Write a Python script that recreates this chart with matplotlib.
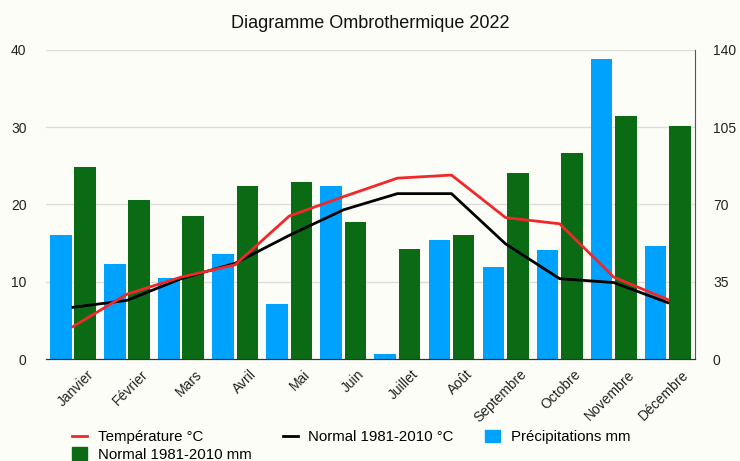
import matplotlib

matplotlib.use("Agg")
import matplotlib.pyplot as plt
import matplotlib.transforms as mtransforms
import numpy as np
from matplotlib.lines import Line2D
from matplotlib.patches import Patch

plt.rcParams["font.family"] = ["Liberation Sans", "DejaVu Sans"]

months = ["Janvier", "Février", "Mars", "Avril", "Mai", "Juin",
          "Juillet", "Août", "Septembre", "Octobre", "Novembre", "Décembre"]
temp_2022 = [4.2, 8.4, 10.6, 12.2, 18.5, 21.0, 23.4, 23.8, 18.3, 17.5, 10.6, 7.7]
temp_normal = [6.7, 7.6, 10.4, 12.4, 16.0, 19.3, 21.4, 21.4, 14.9, 10.4, 9.9, 7.3]
precip_2022 = [56, 43, 36.6, 47.6, 25, 78.4, 2.4, 53.8, 41.7, 49.5, 136, 51.2]
precip_normal = [87, 72, 65, 78.4, 80, 62, 50, 56, 84.4, 93.2, 110, 105.4]

bg = "#fdfdf8"
blue = "#00a2ff"
green = "#0a6b14"
red = "#f02828"

fig = plt.figure(figsize=(7.4, 4.61), dpi=100, facecolor=bg)
ax = fig.add_axes([0.062, 0.221, 0.877, 0.671])
ax2 = ax.twinx()

x = np.arange(len(months))
ax2.bar(x - 0.225, precip_2022, width=0.4, color=blue, zorder=2)
ax2.bar(x + 0.225, precip_normal, width=0.4, color=green, zorder=2)
ax2.set_ylim(0, 140)
ax2.set_yticks([0, 35, 70, 105, 140])

# lines on top of the bars
ax.set_zorder(ax2.get_zorder() + 1)
ax.patch.set_visible(False)
ax2.patch.set_facecolor(bg)

ax.plot(x, temp_normal, color="black", linewidth=2.0, zorder=3)
ax.plot(x, temp_2022, color=red, linewidth=2.0, zorder=4)
ax.set_ylim(0, 40)
ax.set_yticks([0, 10, 20, 30, 40])
ax.set_xlim(-0.5, 11.5)

for v in [35, 70, 105, 140]:
    ax2.axhline(v, color="#dcdcdc", linewidth=1.0, zorder=1)

for a in (ax, ax2):
    a.spines["top"].set_visible(False)
    a.spines["left"].set_visible(False)
    a.tick_params(length=0, labelsize=10, colors="#222222")
ax.spines["right"].set_visible(False)
ax2.spines["right"].set_color("#555555")
ax2.spines["bottom"].set_color("#333333")
ax.spines["bottom"].set_color("#333333")
ax.tick_params(axis="y", pad=14)
ax.tick_params(axis="x", pad=6)
ax2.tick_params(axis="y", pad=13)

ax.set_xticks(x)
ax.set_xticklabels(months, rotation=45, ha="right", rotation_mode="anchor")
shift = mtransforms.ScaledTranslation(14 / 100, 0, fig.dpi_scale_trans)
for lbl in ax.xaxis.get_majorticklabels():
    lbl.set_fontsize(10)
    lbl.set_transform(lbl.get_transform() + shift)

fig.text(0.5, 0.95, "Diagramme Ombrothermique 2022", ha="center", va="center",
         fontsize=13, color="#111111")

handles = [
    Line2D([0], [0], color=red, linewidth=2),
    Patch(color=green),
    Line2D([0], [0], color="black", linewidth=2),
    Patch(color=blue),
]
labels = ["Température °C", "Normal 1981-2010 mm", "Normal 1981-2010 °C", "Précipitations mm"]
fig.legend(handles, labels, loc="upper left", bbox_to_anchor=(72 / 740, 1 - 430 / 461),
           ncol=3, frameon=False, fontsize=10.8, handlelength=1.0, handleheight=0.9,
           columnspacing=2.1, labelspacing=0.18, handletextpad=0.7, borderpad=0,
           borderaxespad=0)

fig.savefig("out.png", dpi=100, facecolor=bg)
